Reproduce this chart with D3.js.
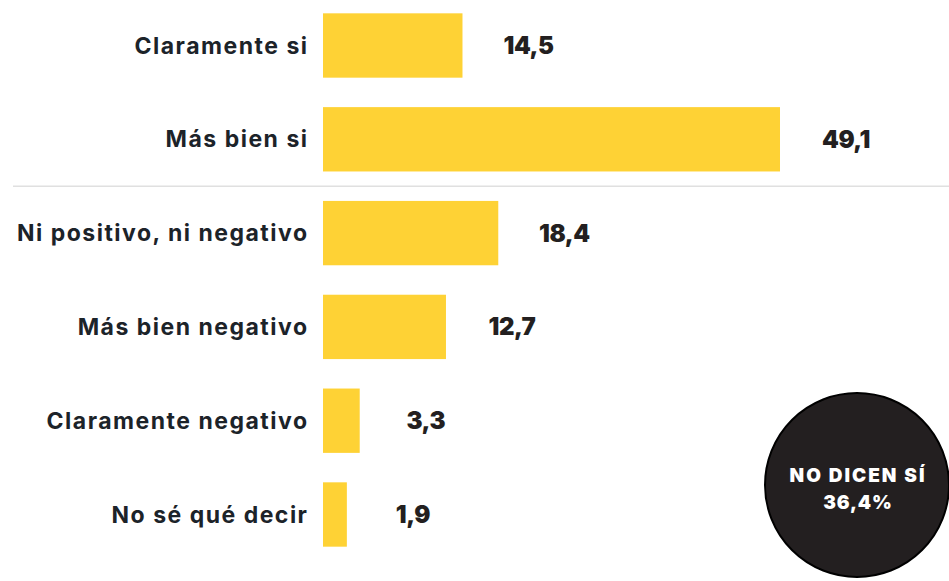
<!DOCTYPE html>
<html>
<head>
<meta charset="utf-8">
<script src="https://cdn.jsdelivr.net/npm/d3@7"></script>
<style>
  body { margin: 0; background: #fff; }
  svg { display: block; }
</style>
</head>
<body>
<svg id="chart" width="949" height="581"></svg>
<script>
// data
const categories = ["Claramente si", "Más bien si", "Ni positivo, ni negativo", "Más bien negativo", "Claramente negativo", "No sé qué decir"]
const values = [14.5, 49.1, 18.4, 12.7, 3.3, 1.9]
const valueLabels = ["14,5", "49,1", "18,4", "12,7", "3,3", "1,9"]
const badgeLines = ["NO DICEN SÍ", "36,4%"]

let svg = d3.select("#chart")

let rows = categories.map((c, i) => ({ cat: c, value: values[i], label: valueLabels[i] }))

let xScale = d3.scaleLinear()
    .domain([-0.7, 49.1])
    .range([323, 780])

let yScale = d3.scaleBand()
    .domain(categories)
    .range([-1.4, 561.4])
    .paddingInner(0.314)
    .paddingOuter(0.157)

// separator between the "si" answers and the rest
let sepY = (yScale(categories[1]) + yScale.bandwidth() + yScale(categories[2])) / 2
svg.append("line")
    .attr("x1", 13)
    .attr("x2", 949)
    .attr("y1", sepY)
    .attr("y2", sepY)
    .style("stroke", "#e0e0e0")
    .style("stroke-width", 1.5)

svg.append("g")
  .selectAll("rect")
  .data(rows)
  .enter().append("rect")
    .attr("x", xScale(-0.7))
    .attr("y", d => yScale(d.cat))
    .attr("width", d => xScale(d.value) - xScale(-0.7))
    .attr("height", yScale.bandwidth())
    .style("fill", "#fed235")

// category labels
svg.append("g")
  .selectAll("text")
  .data(rows)
  .enter().append("text")
    .attr("x", 308.5)
    .attr("y", d => yScale(d.cat) + yScale.bandwidth() / 2)
    .attr("dy", "0.35em")
    .style("text-anchor", "end")
    .style("font-family", "Inter, 'Open Sans', sans-serif")
    .style("font-weight", 700)
    .style("font-size", "23px")
    .style("letter-spacing", "1.5px")
    .style("fill", "#1c2329")
    .text(d => d.cat)

// value labels
svg.append("g")
  .selectAll("text")
  .data(rows)
  .enter().append("text")
    .attr("x", d => xScale(d.value) + 66)
    .attr("y", d => yScale(d.cat) + yScale.bandwidth() / 2)
    .attr("dy", "0.35em")
    .style("text-anchor", "middle")
    .style("font-family", "Inter, Lato, sans-serif")
    .style("font-weight", 900)
    .style("font-size", "24px")
    .style("letter-spacing", "-0.5px")
    .style("fill", "#231f20")
    .text(d => d.label)

// badge
let badge = svg.append("g")
    .attr("transform", "translate(857,485)")

badge.append("circle")
    .attr("r", 92)
    .style("fill", "#231f20")
    .style("stroke", "#000")
    .style("stroke-width", 2)

badge.selectAll("text")
  .data(badgeLines)
  .enter().append("text")
    .attr("x", 1)
    .attr("y", (d, i) => -3 + i * 27)
    .style("text-anchor", "middle")
    .style("font-family", "Inter, Lato, sans-serif")
    .style("font-weight", 900)
    .style("font-size", "19px")
    .style("letter-spacing", (d, i) => i === 0 ? "2px" : "0.8px")
    .style("fill", "#fff")
    .text(d => d)
</script>
</body>
</html>
